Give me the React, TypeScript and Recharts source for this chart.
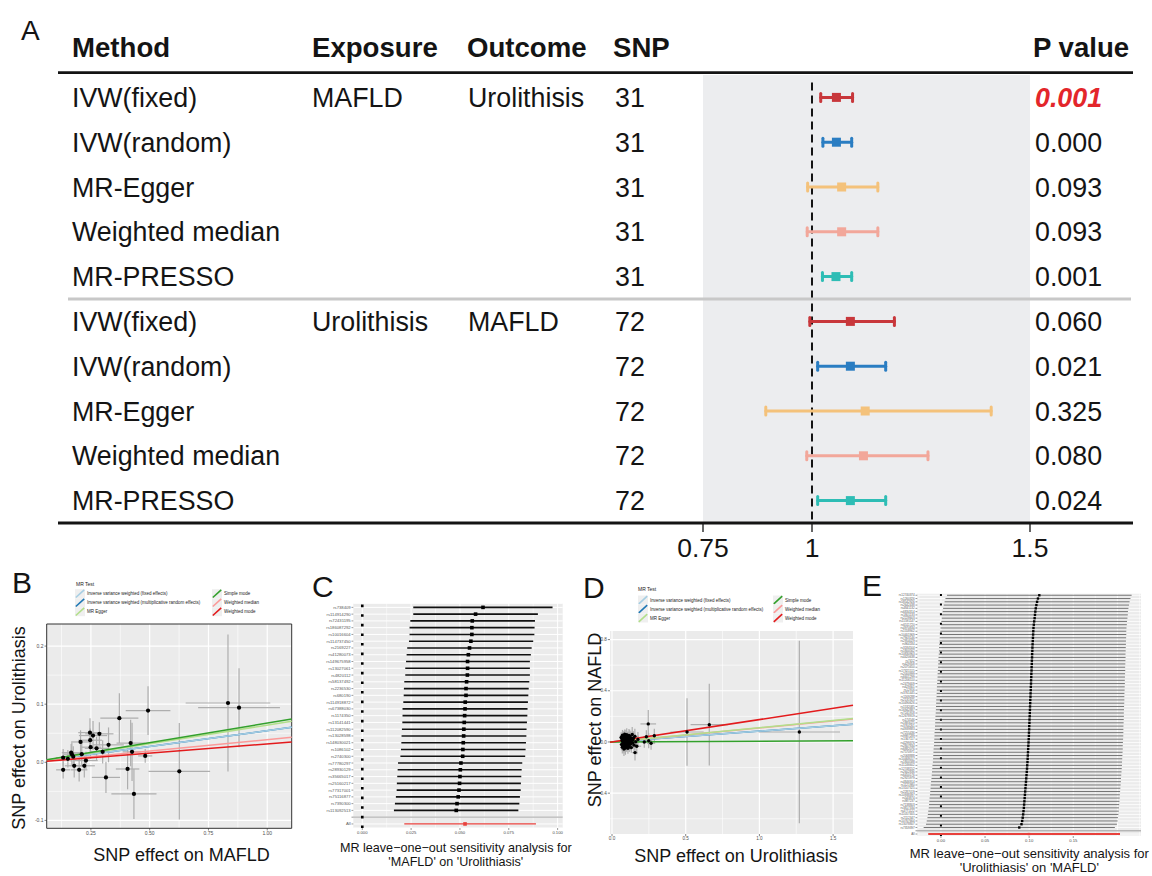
import React from 'react';
import { ScatterChart, Scatter, XAxis, YAxis, ErrorBar, ReferenceLine, ReferenceArea, CartesianGrid } from 'recharts';

const FONT = '"Liberation Sans", Arial, Helvetica, sans-serif';
const INK = '#141414';

// ---------------- Panel A (forest plot) ----------------
const aHeaders = ['Method', 'Exposure', 'Outcome', 'SNP', 'P value'];
const aMethods = ['IVW(fixed)', 'IVW(random)', 'MR-Egger', 'Weighted median', 'MR-PRESSO', 'IVW(fixed)', 'IVW(random)', 'MR-Egger', 'Weighted median', 'MR-PRESSO'];
const aExposure = ['MAFLD', '', '', '', '', 'Urolithisis', '', '', '', ''];
const aOutcome = ['Urolithisis', '', '', '', '', 'MAFLD', '', '', '', ''];
const aSnp = ['31', '31', '31', '31', '31', '72', '72', '72', '72', '72'];
const aPval = ['0.001', '0.000', '0.093', '0.093', '0.001', '0.060', '0.021', '0.325', '0.080', '0.024'];
const aOR = [1.056, 1.056, 1.068, 1.068, 1.055, 1.088, 1.088, 1.122, 1.118, 1.088];
const aLo = [1.020, 1.025, 0.990, 0.989, 1.024, 0.995, 1.013, 0.894, 0.988, 1.013];
const aHi = [1.093, 1.091, 1.151, 1.151, 1.091, 1.189, 1.169, 1.411, 1.266, 1.169];
const aColors = ['#C8373B', '#2A7DC2', '#F4C27B', '#F2A79A', '#2EBDB5'];
const aXTicks = [0.75, 1, 1.5];
const aXDomain = [0.75, 1.5];
const aRows = [0, 1, 2, 3, 4, 5, 6, 7, 8, 9];

// ---------------- Panels B / D (MR scatter) ----------------
const mrMethods = ['Inverse variance weighted (fixed effects)', 'Inverse variance weighted (multiplicative random effects)', 'MR Egger', 'Simple mode', 'Weighted median', 'Weighted mode'];
const mrColors = ['#a6cee3', '#1f78b4', '#b2df8a', '#33a02c', '#fb9a99', '#e31a1c'];
const lineOrder = [1, 0, 4, 2, 3, 5];

const bX = [0.132, 0.166, 0.169, 0.179, 0.200, 0.206, 0.211, 0.222, 0.229, 0.246, 0.247, 0.249, 0.259, 0.286, 0.300, 0.314, 0.325, 0.371, 0.406, 0.419, 0.425, 0.433, 0.481, 0.493, 0.626, 0.833, 0.880, 0.132, 0.175, 0.274, 0.152];
const bY = [-0.013, 0.0165, 0.014, -0.006, -0.013, 0.035, 0.014, -0.006, 0.003, 0.051, 0.038, 0.026, 0.046, 0.049, 0.018, -0.026, 0.030, 0.076, -0.0115, 0.033, 0.018, -0.0545, 0.011, 0.089, -0.0155, 0.102, 0.094, 0.008, 0.0097, 0.024, 0.006];
const bEx = [0.030, 0.040, 0.035, 0.040, 0.035, 0.040, 0.050, 0.045, 0.050, 0.050, 0.050, 0.045, 0.060, 0.060, 0.050, 0.060, 0.065, 0.081, 0.050, 0.060, 0.040, 0.096, 0.030, 0.095, 0.131, 0.180, 0.174, 0.030, 0.035, 0.050, 0.035];
const bEy = [0.015, 0.015, 0.020, 0.020, 0.020, 0.020, 0.020, 0.020, 0.015, 0.025, 0.020, 0.020, 0.025, 0.020, 0.020, 0.027, 0.030, 0.043, 0.035, 0.040, 0.050, 0.043, 0.012, 0.042, 0.083, 0.118, 0.068, 0.015, 0.018, 0.020, 0.015];
const bSlopes = [0.0545, 0.0545, 0.064, 0.0675, 0.039, 0.0317];
const bXDomain = [0.062, 1.104];
const bYDomain = [-0.1136, 0.238];
const bXTicks = [0.25, 0.5, 0.75, 1.0];
const bYTicks = [-0.1, 0.0, 0.1, 0.2];
const bXMinor = [0.125, 0.375, 0.625, 0.875];
const bYMinor = [-0.05, 0.05, 0.15];

const dX = [
  1.271, 0.660, 0.509, 0.246, 0.287, 0.265, 0.249, 0.219, 0.233, 0.156, 0.062, 0.065,
  0.068, 0.070, 0.071, 0.073, 0.074, 0.076, 0.077, 0.078, 0.080, 0.081, 0.082, 0.083,
  0.085, 0.086, 0.087, 0.088, 0.090, 0.091, 0.092, 0.094, 0.095, 0.096, 0.098, 0.099,
  0.100, 0.102, 0.103, 0.105, 0.106, 0.108, 0.110, 0.111, 0.113, 0.115, 0.117, 0.119,
  0.121, 0.123, 0.125, 0.128, 0.131, 0.134, 0.137, 0.141, 0.145, 0.150, 0.155, 0.161,
  0.168, 0.176, 0.069, 0.075, 0.084, 0.089, 0.097, 0.104, 0.112, 0.120, 0.132, 0.143];
const dY = [
  0.078, 0.135, 0.078, 0.141, 0.049, -0.010, 0.010, 0.000, 0.041, -0.083, 0.035, -0.020,
  0.012, -0.041, 0.052, 0.003, -0.012, 0.028, -0.030, 0.045, 0.008, -0.055, 0.019, 0.038,
  -0.006, 0.061, -0.024, 0.015, 0.030, -0.047, 0.004, 0.048, -0.015, 0.024, -0.035, 0.010,
  0.056, -0.002, -0.028, 0.041, 0.018, -0.050, 0.033, -0.010, 0.006, 0.050, -0.038, 0.022,
  0.000, 0.039, -0.018, 0.027, -0.044, 0.014, 0.058, -0.008, 0.031, -0.025, 0.044, 0.002,
  -0.033, 0.020, 0.025, -0.015, 0.047, -0.037, 0.011, 0.032, -0.021, 0.043, -0.004, 0.016];
const dEx = [
  0.276, 0.127, 0.113, 0.053, 0.030, 0.028, 0.025, 0.022, 0.020, 0.018, 0.012, 0.014,
  0.015, 0.013, 0.018, 0.016, 0.012, 0.020, 0.017, 0.014, 0.019, 0.022, 0.015, 0.013,
  0.018, 0.021, 0.016, 0.014, 0.020, 0.017, 0.023, 0.015, 0.019, 0.018, 0.016, 0.024,
  0.020, 0.017, 0.022, 0.019, 0.025, 0.018, 0.021, 0.016, 0.026, 0.020, 0.023, 0.019,
  0.022, 0.027, 0.020, 0.024, 0.021, 0.028, 0.025, 0.022, 0.030, 0.026, 0.028, 0.032,
  0.030, 0.034, 0.014, 0.017, 0.016, 0.019, 0.021, 0.018, 0.023, 0.020, 0.025, 0.027];
const dEy = [
  0.713, 0.319, 0.263, 0.109, 0.055, 0.050, 0.060, 0.045, 0.050, 0.062, 0.040, 0.045,
  0.038, 0.050, 0.042, 0.035, 0.048, 0.040, 0.052, 0.037, 0.044, 0.055, 0.039, 0.046,
  0.041, 0.036, 0.050, 0.043, 0.038, 0.053, 0.040, 0.047, 0.035, 0.049, 0.042, 0.038,
  0.051, 0.040, 0.045, 0.037, 0.054, 0.042, 0.048, 0.039, 0.046, 0.052, 0.041, 0.044,
  0.050, 0.043, 0.047, 0.055, 0.040, 0.049, 0.058, 0.045, 0.052, 0.048, 0.060, 0.050,
  0.062, 0.058, 0.040, 0.046, 0.043, 0.051, 0.039, 0.047, 0.044, 0.053, 0.049, 0.056];
const dSlopes = [0.0845, 0.0845, 0.112, 0.006, 0.110, 0.175];
const dXDomain = [-0.0136, 1.635];
const dYDomain = [-0.719, 0.867];
const dXTicks = [0.0, 0.5, 1.0, 1.5];
const dYTicks = [-0.4, 0.0, 0.4, 0.8];
const dXMinor = [0.25, 0.75, 1.25];
const dYMinor = [-0.6, -0.2, 0.2, 0.6];

// ---------------- Panel C (leave-one-out MAFLD -> Urolithiasis) ----------------
const cSnps = ['rs738409', 'rs114914290', 'rs72431195', 'rs186087292', 'rs10016604', 'rs114737450', 'rs2169227', 'rs41280073', 'rs149675958', 'rs13027061', 'rs4820112', 'rs58137492', 'rs2236530', 'rs680190', 'rs114918872', 'rs67388030', 'rs1174350', 'rs13141441', 'rs112082590', 'rs13028598', 'rs148030021', 'rs1086102', 'rs2740300', 'rs77780297', 'rs28930129', 'rs35665017', 'rs25160217', 'rs77317001', 'rs75116877', 'rs7390300', 'rs113092513'];
const cB = [0.0618, 0.0580, 0.0563, 0.0561, 0.0561, 0.0556, 0.0549, 0.0543, 0.0539, 0.0539, 0.0538, 0.0534, 0.0531, 0.0531, 0.0527, 0.0526, 0.0524, 0.0522, 0.0520, 0.0519, 0.0517, 0.0515, 0.0514, 0.0505, 0.0502, 0.0500, 0.0498, 0.0495, 0.0491, 0.0485, 0.0481];
const cLo = [0.0261, 0.0261, 0.0246, 0.0242, 0.0242, 0.0239, 0.0230, 0.0227, 0.0224, 0.0220, 0.0220, 0.0215, 0.0213, 0.0212, 0.0210, 0.0206, 0.0206, 0.0205, 0.0203, 0.0201, 0.0200, 0.0198, 0.0195, 0.0183, 0.0181, 0.0179, 0.0177, 0.0176, 0.0172, 0.0167, 0.0162];
const cHi = [0.0974, 0.0899, 0.0884, 0.0882, 0.0881, 0.0875, 0.0867, 0.0863, 0.0858, 0.0858, 0.0858, 0.0855, 0.0852, 0.0850, 0.0848, 0.0846, 0.0845, 0.0843, 0.0841, 0.0840, 0.0838, 0.0836, 0.0834, 0.0819, 0.0816, 0.0814, 0.0812, 0.0811, 0.0807, 0.0804, 0.0799];
const cAll = [0.0526, 0.0215, 0.0889];
const cXDomain = [-0.0046, 0.1026];
const cXTicks = [0, 0.025, 0.05, 0.075, 0.1];
const cXMinor = [0.0125, 0.0375, 0.0625, 0.0875];

// ---------------- Panel E (leave-one-out Urolithiasis -> MAFLD) ----------------
const eSnps = [
  'rs12740374', 'rs1260326', 'rs58542926', 'rs2642438', 'rs4841132', 'rs6834314', 'rs1801133', 'rs2228603', 'rs11591147', 'rs6511720', 'rs4970834', 'rs1558902',
  'rs10401969', 'rs7903146', 'rs2954029', 'rs964184', 'rs3184504', 'rs1800562', 'rs10830963', 'rs4420638', 'rs7412', 'rs429358', 'rs2075650', 'rs17321515',
  'rs2000999', 'rs6601299', 'rs11206510', 'rs2479409', 'rs629301', 'rs12916', 'rs3761445', 'rs1169288', 'rs2131925', 'rs10490626', 'rs1532085', 'rs16942887',
  'rs7241918', 'rs12678919', 'rs174546', 'rs1883025', 'rs3764261', 'rs4939883', 'rs7255436', 'rs9987289', 'rs1367117', 'rs4299376', 'rs2807834', 'rs6882076',
  'rs7570971', 'rs2068888', 'rs10468017', 'rs1800588', 'rs11246602', 'rs12748152', 'rs2602836', 'rs6450176', 'rs2925979', 'rs4846914', 'rs1121980', 'rs13107325',
  'rs2287019', 'rs10938397', 'rs543874', 'rs987237', 'rs7138803', 'rs3817334', 'rs4771122', 'rs11057405', 'rs2112347', 'rs10767664', 'rs13078807', 'rs7359397'];
const eB = [
  0.1115, 0.1100, 0.1090, 0.1082, 0.1075, 0.1070, 0.1066, 0.1062, 0.1057, 0.1053, 0.1049, 0.1047,
  0.1045, 0.1043, 0.1041, 0.1039, 0.1037, 0.1036, 0.1034, 0.1033, 0.1031, 0.1030, 0.1028, 0.1027,
  0.1025, 0.1024, 0.1022, 0.1021, 0.1019, 0.1018, 0.1016, 0.1015, 0.1013, 0.1012, 0.1010, 0.1009,
  0.1007, 0.1006, 0.1004, 0.1003, 0.1001, 0.1000, 0.0998, 0.0997, 0.0995, 0.0993, 0.0991, 0.0989,
  0.0987, 0.0985, 0.0983, 0.0981, 0.0978, 0.0976, 0.0973, 0.0970, 0.0967, 0.0964, 0.0961, 0.0958,
  0.0955, 0.0952, 0.0949, 0.0946, 0.0943, 0.0940, 0.0936, 0.0932, 0.0927, 0.0921, 0.0913, 0.0888];
const eSe = [
  0.0534, 0.0535, 0.0535, 0.0536, 0.0536, 0.0536, 0.0537, 0.0537, 0.0537, 0.0538, 0.0538, 0.0538,
  0.0539, 0.0539, 0.0539, 0.0540, 0.0540, 0.0540, 0.0540, 0.0541, 0.0541, 0.0541, 0.0541, 0.0542,
  0.0542, 0.0542, 0.0542, 0.0543, 0.0543, 0.0543, 0.0543, 0.0543, 0.0544, 0.0544, 0.0544, 0.0544,
  0.0544, 0.0545, 0.0545, 0.0545, 0.0545, 0.0545, 0.0546, 0.0546, 0.0546, 0.0546, 0.0546, 0.0547,
  0.0547, 0.0547, 0.0547, 0.0547, 0.0548, 0.0548, 0.0548, 0.0548, 0.0548, 0.0549, 0.0549, 0.0549,
  0.0549, 0.0549, 0.0550, 0.0550, 0.0550, 0.0550, 0.0551, 0.0551, 0.0551, 0.0552, 0.0552, 0.0553];
const eAll = [0.0998, -0.0144, 0.2030];
const eXDomain = [-0.0268, 0.2268];
const eXTicks = [0, 0.05, 0.1, 0.15];
const eXMajorGrid = [0, 0.05, 0.1, 0.15, 0.2];
const eXMinor = [-0.025, 0.025, 0.075, 0.125, 0.175, 0.225];

// ---------------- derived tables ----------------
const aSeries = aColors.map((_, m) => [m, m + 5].map((r) => ({ x: aOR[r], y: r, err: [aOR[r] - aLo[r], aHi[r] - aOR[r]] })));
const bPts = bX.map((x, i) => ({ x, y: bY[i], ex: bEx[i], ey: bEy[i] }));
const dPts = dX.map((x, i) => ({ x, y: dY[i], ex: dEx[i], ey: dEy[i] }));
const cPts = cB.map((b, i) => ({ x: b, y: i, err: [b - cLo[i], cHi[i] - b] }));
const cAllPt = [{ x: cAll[0], y: cSnps.length + 1, err: [cAll[0] - cAll[1], cAll[2] - cAll[0]] }];
const cLabels = [...cSnps, '', 'All'];
const ePts = eB.map((b, i) => ({ x: b, y: i, err: [1.96 * eSe[i], 1.96 * eSe[i]] }));
const eAllPt = [{ x: eAll[0], y: eSnps.length + 1, err: [eAll[0] - eAll[1], eAll[2] - eAll[0]] }];
const eLabels = [...eSnps, '', 'All'];

// ---------------- Panel A tick renderer (table columns) ----------------
const A_ROW_H = 44.8;
const colHead = [72, 312, 467, 613, 1033];
const colText = [72, 312, 468, 615, 1035];

function ARowTick(props: any) {
  const y = Number(props.y);
  const i = Number(props.payload && props.payload.value);
  const half = A_ROW_H / 2;
  const base = y + 9.5;
  const tp: any = { fontFamily: FONT, fontSize: 26.8 };
  const red = i === 0;
  return (
    <g>
      {i === 0 && (
        <g>
          {aHeaders.map((h, k) => (
            <text key={k} x={colHead[k]} y={y - 40.4} fontFamily={FONT} fontSize={27.6} fill={INK} fontWeight="bold">{h}</text>
          ))}
          <line x1={58} x2={1133} y1={y - half - 2.4} y2={y - half - 2.4} stroke={INK} strokeWidth={2.6} />
        </g>
      )}
      {i === 4 && <line x1={68} x2={1131} y1={y + half} y2={y + half} stroke="#C8C8C8" strokeWidth={3} />}
      {i === 9 && <line x1={58} x2={1133} y1={y + half} y2={y + half} stroke={INK} strokeWidth={3} />}
      <text x={colText[0]} y={base} {...tp} fill={INK}>{aMethods[i]}</text>
      <text x={colText[1]} y={base} {...tp} fill={INK}>{aExposure[i]}</text>
      <text x={colText[2]} y={base} {...tp} fill={INK}>{aOutcome[i]}</text>
      <text x={colText[3]} y={base} {...tp} fill={INK}>{aSnp[i]}</text>
      <text x={colText[4]} y={base} {...tp} fill={red ? '#E3262B' : INK} fontWeight={red ? 'bold' : 'normal'} fontStyle={red ? 'italic' : 'normal'}>{aPval[i]}</text>
    </g>
  );
}

function PanelA() {
  return (
    <ScatterChart width={1152} height={585} margin={{ top: 75, right: 122, bottom: 0, left: 702 }}>
      <ReferenceArea x1={0.75} x2={1.5} y1={-0.5} y2={9.5} fill="#ECEDEF" fillOpacity={1} stroke="none" ifOverflow="visible" />
      <XAxis type="number" dataKey="x" domain={aXDomain} allowDataOverflow ticks={aXTicks} interval={0}
        tickFormatter={(v: number) => String(v)} height={62} axisLine={false} tickSize={9} tickMargin={6}
        tickLine={{ stroke: INK, strokeWidth: 1.3 }} tick={{ fontSize: 26.5, fill: INK, fontFamily: FONT }} />
      <YAxis type="number" dataKey="y" domain={[-0.5, 9.5]} allowDataOverflow reversed ticks={aRows} interval={0}
        tick={ARowTick} axisLine={false} tickLine={false} width={1} />
      <ReferenceLine segment={[{ x: 1, y: -0.33 }, { x: 1, y: 9.5 }]} stroke={INK} strokeWidth={2} strokeDasharray="8 5" ifOverflow="visible" />
      {aColors.map((c, m) => (
        <Scatter key={m} data={aSeries[m]} fill={c} isAnimationActive={false}
          shape={(s: any) => <rect x={s.cx - 4.5} y={s.cy - 4.5} width={9} height={9} fill={c} />}>
          <ErrorBar dataKey="err" direction="x" width={4} strokeWidth={3} stroke={c} strokeLinecap="round" isAnimationActive={false} />
        </Scatter>
      ))}
    </ScatterChart>
  );
}

function MRScatter(p: any) {
  const { width, height, margin, yAxisWidth, xAxisHeight, xDomain, yDomain, xTicks, yTicks, xMinor, yMinor, xDigits, yDigits, pts, slopes, dotR, border, tickFont } = p;
  return (
    <ScatterChart width={width} height={height} margin={margin}>
      <CartesianGrid fill="#EBEBEB" fillOpacity={1} stroke="#FFFFFF" strokeWidth={0.6} verticalValues={xMinor} horizontalValues={yMinor} />
      <CartesianGrid stroke="#FFFFFF" strokeWidth={1.2} verticalValues={xTicks} horizontalValues={yTicks} />
      <XAxis type="number" dataKey="x" domain={xDomain} allowDataOverflow ticks={xTicks} interval={0}
        tickFormatter={(v: number) => v.toFixed(xDigits)} height={xAxisHeight} axisLine={false} tickSize={2.2} tickMargin={1}
        tickLine={{ stroke: '#333', strokeWidth: 0.6 }} tick={{ fontSize: tickFont, fill: '#4D4D4D', fontFamily: FONT }} />
      <YAxis type="number" dataKey="y" domain={yDomain} allowDataOverflow ticks={yTicks} interval={0}
        tickFormatter={(v: number) => v.toFixed(yDigits)} width={yAxisWidth} axisLine={false} tickSize={2.2} tickMargin={1}
        tickLine={{ stroke: '#333', strokeWidth: 0.6 }} tick={{ fontSize: tickFont, fill: '#4D4D4D', fontFamily: FONT }} />
      <Scatter data={pts} fill="#000" isAnimationActive={false}
        shape={(s: any) => <circle cx={s.cx} cy={s.cy} r={dotR} fill="#000" />}>
        <ErrorBar dataKey="ex" direction="x" width={0} stroke="#AEAEAE" strokeWidth={1.2} isAnimationActive={false} />
        <ErrorBar dataKey="ey" direction="y" width={0} stroke="#AEAEAE" strokeWidth={1.2} isAnimationActive={false} />
      </Scatter>
      {lineOrder.map((k) => (
        <ReferenceLine key={k} segment={[{ x: xDomain[0], y: slopes[k] * xDomain[0] }, { x: xDomain[1], y: slopes[k] * xDomain[1] }]}
          stroke={mrColors[k]} strokeWidth={1.5} ifOverflow="visible" />
      ))}
      {border && (
        <ReferenceArea x1={xDomain[0]} x2={xDomain[1]} y1={yDomain[0]} y2={yDomain[1]} fill="none" fillOpacity={0} stroke="#333" strokeWidth={1} ifOverflow="visible" />
      )}
    </ScatterChart>
  );
}

function LooPanel(p: any) {
  const { width, height, margin, yAxisWidth, xAxisHeight, xDomain, xTicks, xGrid, xMinor, xDigits, labels, pts, allPt, yFont, xFont, barW, barColor, dot, allBarW, dotW, rowGrid } = p;
  const n = labels.length;
  const rows = labels.map((_: string, i: number) => i);
  return (
    <ScatterChart width={width} height={height} margin={margin}>
      <CartesianGrid fill="#EBEBEB" fillOpacity={1} stroke="#FFFFFF" strokeWidth={0.5} horizontal={false} verticalValues={xMinor} />
      <CartesianGrid stroke="#FFFFFF" strokeWidth={rowGrid} verticalValues={xGrid} />
      <XAxis type="number" dataKey="x" domain={xDomain} allowDataOverflow ticks={xTicks} interval={0}
        tickFormatter={(v: number) => v.toFixed(xDigits)} height={xAxisHeight} axisLine={false} tickSize={2} tickMargin={1}
        tickLine={{ stroke: '#333', strokeWidth: 0.5 }} tick={{ fontSize: xFont, fill: '#4D4D4D', fontFamily: FONT }} />
      <YAxis type="number" dataKey="y" domain={[-0.6, n - 1 + 0.6]} allowDataOverflow reversed ticks={rows} interval={0}
        tickFormatter={(v: number) => labels[v]} width={yAxisWidth} axisLine={false} tickSize={1.8} tickMargin={0.8}
        tickLine={{ stroke: '#333', strokeWidth: 0.5 }} tick={{ fontSize: yFont, fill: '#5A5A5A', fontFamily: FONT }} />
      <ReferenceLine y={n - 2} stroke="#B5B5B5" strokeWidth={1.4} />
      <ReferenceLine x={0} stroke="#000" strokeWidth={dotW} strokeDasharray={`${dotW} ${9.6 - dotW}`} />
      <Scatter data={pts} fill="#000" isAnimationActive={false}
        shape={(s: any) => <rect x={s.cx - dot / 2} y={s.cy - dot / 2} width={dot} height={dot} fill="#000" />}>
        <ErrorBar dataKey="err" direction="x" width={0} stroke={barColor} strokeWidth={barW} isAnimationActive={false} />
      </Scatter>
      <Scatter data={allPt} fill="#E8413C" isAnimationActive={false}
        shape={(s: any) => <rect x={s.cx - dot / 2} y={s.cy - dot / 2} width={dot} height={dot} fill="#E8413C" />}>
        <ErrorBar dataKey="err" direction="x" width={0} stroke="#E8413C" strokeWidth={allBarW} isAnimationActive={false} />
      </Scatter>
    </ScatterChart>
  );
}

function MRLegend(p: any) {
  const { tx, ty, c1x, c2x, rows } = p;
  return (
    <g fontFamily={FONT}>
      <text x={tx} y={ty} fontSize={5} fill="#222">MR Test</text>
      {mrMethods.map((name, k) => {
        const kx = k < 3 ? c1x : c2x;
        const ky = rows[k % 3];
        return (
          <g key={k}>
            <rect x={kx} y={ky - 4.5} width={10} height={9} fill="#EFEFEF" />
            <line x1={kx + 0.8} y1={ky + 3.8} x2={kx + 9.2} y2={ky - 3.8} stroke={mrColors[k]} strokeWidth={1.6} />
            <text x={kx + 12} y={ky + 1.6} fontSize={4.5} fill="#222">{name}</text>
          </g>
        );
      })}
    </g>
  );
}

export default function App() {
  return (
    <div style={{ position: 'absolute', left: 0, top: 0, width: 1152, height: 876, background: '#fff', overflow: 'hidden', fontFamily: FONT }}>
      <div style={{ position: 'absolute', left: 0, top: 560 }}>
        <MRScatter width={300} height={316} margin={{ top: 64, right: 8.3, bottom: 0, left: 24.7 }} yAxisWidth={22} xAxisHeight={47.7}
          xDomain={bXDomain} yDomain={bYDomain} xTicks={bXTicks} yTicks={bYTicks} xMinor={bXMinor} yMinor={bYMinor}
          xDigits={2} yDigits={1} pts={bPts} slopes={bSlopes} dotR={2.1} border tickFont={5} />
      </div>
      <div style={{ position: 'absolute', left: 300, top: 560 }}>
        <LooPanel width={280} height={316} margin={{ top: 43.3, right: 17.3, bottom: 0, left: 3.3 }} yAxisWidth={50} xAxisHeight={48}
          xDomain={cXDomain} xTicks={cXTicks} xGrid={cXTicks} xMinor={cXMinor} xDigits={3} labels={cLabels} pts={cPts} allPt={cAllPt}
          yFont={4.2} xFont={4.2} barW={1.6} barColor="#111" dot={3.6} allBarW={1.2} dotW={2.6} rowGrid={1} />
      </div>
      <div style={{ position: 'absolute', left: 580, top: 560 }}>
        <MRScatter width={290} height={316} margin={{ top: 71, right: 17, bottom: 0, left: 8 }} yAxisWidth={22} xAxisHeight={42}
          xDomain={dXDomain} yDomain={dYDomain} xTicks={dXTicks} yTicks={dYTicks} xMinor={dXMinor} yMinor={dYMinor}
          xDigits={1} yDigits={1} pts={dPts} slopes={dSlopes} dotR={1.7} border={false} tickFont={4.6} />
      </div>
      <div style={{ position: 'absolute', left: 860, top: 560 }}>
        <LooPanel width={292} height={316} margin={{ top: 33.3, right: 11, bottom: 0, left: 1.3 }} yAxisWidth={56} xAxisHeight={40}
          xDomain={eXDomain} xTicks={eXTicks} xGrid={eXMajorGrid} xMinor={eXMinor} xDigits={2} labels={eLabels} pts={ePts} allPt={eAllPt}
          yFont={3} xFont={4.2} barW={0.7} barColor="#3A3A3A" dot={2.4} allBarW={2} dotW={2} rowGrid={0.8} />
      </div>
      <div style={{ position: 'absolute', left: 0, top: 0, pointerEvents: 'none' }}>
        <PanelA />
      </div>
      <svg width={1152} height={876} style={{ position: 'absolute', left: 0, top: 0, pointerEvents: 'none' }}>
        <g fontFamily={FONT} fill={INK}>
          <text x={21} y={40} fontSize={28}>A</text>
          <text x={12} y={593} fontSize={30}>B</text>
          <text x={312} y={597} fontSize={30}>C</text>
          <text x={583} y={598} fontSize={30}>D</text>
          <text x={862} y={596} fontSize={30}>E</text>
          <text x={181.5} y={861} fontSize={18} textAnchor="middle">SNP effect on MAFLD</text>
          <text x={18.5} y={728} fontSize={18} textAnchor="middle" dominantBaseline="central" transform="rotate(-90 18.5 728)">SNP effect on Urolithiasis</text>
          <text x={736} y={862} fontSize={18} textAnchor="middle">SNP effect on Urolithiasis</text>
          <text x={594.5} y={720} fontSize={18} textAnchor="middle" dominantBaseline="central" transform="rotate(-90 594.5 720)">SNP effect on NAFLD</text>
          <text x={455.8} y={851.5} fontSize={12.6} textAnchor="middle">MR leave−one−out sensitivity analysis for</text>
          <text x={455.8} y={865.5} fontSize={12.6} textAnchor="middle">'MAFLD' on 'Urolithiasis'</text>
          <text x={1029.3} y={857.5} fontSize={13} textAnchor="middle">MR leave−one−out sensitivity analysis for</text>
          <text x={1029.3} y={872} fontSize={13} textAnchor="middle">'Urolithiasis' on 'MAFLD'</text>
        </g>
        <MRLegend tx={76} ty={586} c1x={75} c2x={212} rows={[593.7, 602.7, 611.7]} />
        <MRLegend tx={638} ty={591} c1x={638} c2x={773} rows={[600, 609, 618]} />
      </svg>
    </div>
  );
}
